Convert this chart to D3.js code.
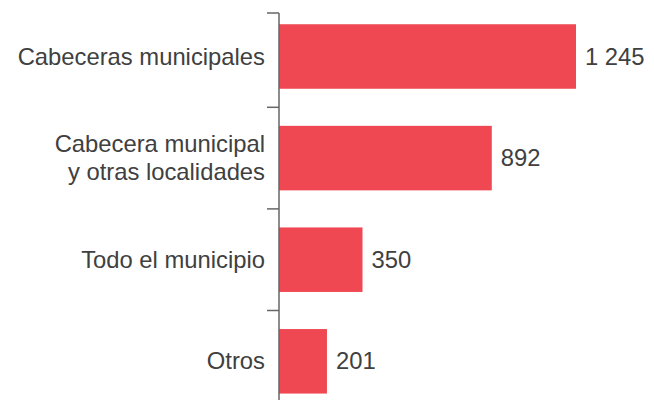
<!DOCTYPE html>
<html>
<head>
<meta charset="utf-8">
<script src="https://cdn.jsdelivr.net/npm/d3@7"></script>
<style>
  body { margin: 0; background: #fff; }
  text { font-family: "Liberation Sans", Arial, sans-serif; }
</style>
</head>
<body>
<div id="chart"></div>
<script>
const categories = ["Cabeceras municipales", "Cabecera municipal\ny otras localidades", "Todo el municipio", "Otros"];
const values = [1245, 892, 350, 201];

const width = 654,
    height = 400;

const svg = d3.select("#chart").append("svg")
    .attr("width", width)
    .attr("height", height);

const axisX = 279;

const x = d3.scaleLinear()
    .domain([0, 1245])
    .range([axisX, 576]);

const y = d3.scaleBand()
    .domain(categories)
    .range([5.7, 412.1])
    .paddingInner(0.365)
    .paddingOuter(0.1825);

const fmt = d3.formatLocale({ decimal: ",", thousands: " ", grouping: [3], currency: ["$", ""] }).format(",d");

const textColor = "#404040";
const fontSize = 23.8;

// bars
svg.selectAll(".bar")
  .data(values)
  .enter().append("rect")
  .attr("class", "bar")
  .attr("x", x(0))
  .attr("y", (d, i) => y(categories[i]))
  .attr("width", d => x(d) - x(0))
  .attr("height", y.bandwidth())
  .attr("fill", "#ef4852");

// axis line + ticks between bands
const step = y.step();
const tickYs = [13].concat(categories.slice(1).map(c => y(c) - step * y.paddingInner() / 2));

svg.append("line")
  .attr("x1", axisX).attr("x2", axisX)
  .attr("y1", 13).attr("y2", height)
  .attr("stroke", "#666").attr("stroke-width", 1.5);

svg.selectAll(".tick")
  .data(tickYs)
  .enter().append("line")
  .attr("class", "tick")
  .attr("x1", axisX - 12).attr("x2", axisX)
  .attr("y1", d => d).attr("y2", d => d)
  .attr("stroke", "#666").attr("stroke-width", 1.5);

// category labels
svg.selectAll(".cat")
  .data(categories)
  .enter().append("text")
  .attr("class", "cat")
  .attr("text-anchor", "end")
  .attr("fill", textColor)
  .style("font-size", fontSize + "px")
  .each(function (d) {
    const lines = d.split("\n");
    const cy = y(d) + y.bandwidth() / 2;
    const lh = 27.5;
    const t = d3.select(this);
    lines.forEach((ln, j) => {
      t.append("tspan")
        .attr("x", axisX - 14)
        .attr("y", cy + 8 + (j - (lines.length - 1) / 2) * lh)
        .text(ln);
    });
  });

// value labels
svg.selectAll(".val")
  .data(values)
  .enter().append("text")
  .attr("class", "val")
  .attr("x", d => x(d) + 9)
  .attr("y", (d, i) => y(categories[i]) + y.bandwidth() / 2 + 8)
  .attr("fill", textColor)
  .style("font-size", fontSize + "px")
  .text(d => fmt(d));
</script>
</body>
</html>
